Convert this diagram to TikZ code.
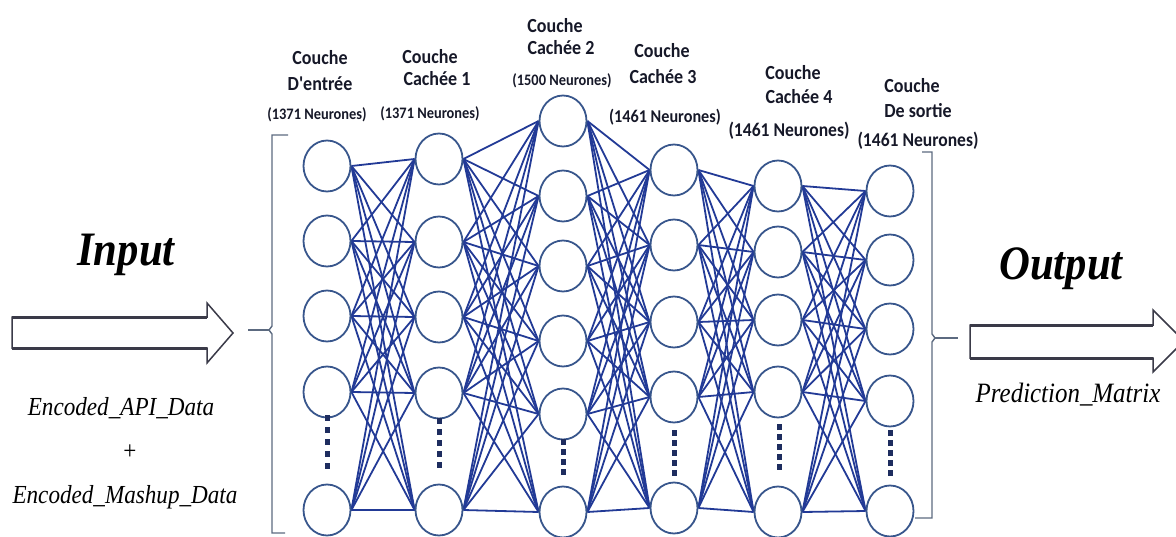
\documentclass[tikz,border=0pt]{standalone}
\usepackage{fontspec}
\newfontfamily\labfont{Carlito}[FakeStretch=0.9]
\newfontfamily\serfont{Liberation Serif}[FakeStretch=0.89]
\usetikzlibrary{shapes.geometric,backgrounds}

\definecolor{edgeblue}{RGB}{34,58,150}
\definecolor{neuronc}{RGB}{56,86,140}
\definecolor{dotc}{RGB}{30,45,95}
\definecolor{brk}{RGB}{92,106,128}
\definecolor{arrc}{RGB}{58,58,72}
\definecolor{labc}{RGB}{22,24,40}

\tikzset{
  neuron/.style={ellipse, draw=neuronc, line width=1.8pt, fill=white,
    minimum width=47pt, minimum height=51pt, inner sep=0pt},
  edge/.style={draw=edgeblue, line width=1.8pt},
  bracket/.style={draw=brk, line width=1.4pt},
  blockarrow/.style={draw=arrc, line width=1.5pt, fill=white, line join=miter},
  shaftedge/.style={draw=arrc, line width=3pt},
  title/.style={font=\labfont\bfseries\fontsize{20}{22}\selectfont, text=labc, inner sep=0pt},
  count/.style={font=\labfont\bfseries\fontsize{#1}{#1}\selectfont, text=labc, inner sep=0pt},
  big/.style={font=\serfont\bfseries\itshape\fontsize{48}{50}\selectfont, inner sep=0pt, anchor=base},
  data/.style={font=\serfont\itshape\fontsize{26}{28}\selectfont, inner sep=0pt, anchor=base},
}

\begin{document}
\begin{tikzpicture}[x=1pt,y=-1pt]
\useasboundingbox (0,0) rectangle (1176,536);
\clip (0,0) rectangle (1176,536);

% neurons of each layer
\foreach \y [count=\i] in {166,241,316,392,510} \node[neuron] (n1-\i) at (327,\y) {};
\foreach \y [count=\i] in {159,242,317,393,510} \node[neuron] (n2-\i) at (439,\y) {};
\foreach \y [count=\i] in {121,196,266,341,414,512} \node[neuron] (n3-\i) at (563,\y) {};
\foreach \y [count=\i] in {170,245,322,397,508} \node[neuron] (n4-\i) at (674,\y) {};
\foreach \y [count=\i] in {186,252,320,392,512} \node[neuron] (n5-\i) at (778,\y) {};
\foreach \y [count=\i] in {191,260,329,401,511} \node[neuron] (n6-\i) at (890,\y) {};

% full connections between consecutive layers
\begin{scope}[on background layer]
\foreach \i in {1,...,5} \foreach \j in {1,...,5} \draw[edge] (n1-\i.east) -- (n2-\j.west);
\foreach \i in {1,...,5} \foreach \j in {1,...,6} \draw[edge] (n2-\i.east) -- (n3-\j.west);
\foreach \i in {1,...,6} \foreach \j in {1,...,5} \draw[edge] (n3-\i.east) -- (n4-\j.west);
\foreach \i in {1,...,5} \foreach \j in {1,...,5} \draw[edge] (n4-\i.east) -- (n5-\j.west);
\foreach \i in {1,...,5} \foreach \j in {1,...,5} \draw[edge] (n5-\i.east) -- (n6-\j.west);
\end{scope}

% vertical ellipsis dots
\foreach \x/\ys in {327/{418,430,442,454,466}, 439/{421,432,443,454,465},
                    563/{442,452,462,472}, 674/{433,443,453,463,473},
                    779/{427,437,447,457,467}, 890/{433,443,453,463,473}}
  \foreach \y in \ys \fill[dotc] (\x-2.5,\y-2.8) rectangle (\x+2.5,\y+2.8);

% brackets around the network
\draw[bracket] (288,135) -- (272,135) -- (272,326) -- (269,330) -- (272,334) -- (272,533) -- (285,533);
\draw[bracket] (269,330) -- (248,330);
\draw[bracket] (922,152) -- (932,152) -- (932,334) -- (935,338) -- (932,342) -- (932,518) -- (915,518);
\draw[bracket] (935,338) -- (958,338);

% input block arrow
\draw[blockarrow] (12,317) -- (207,317) -- (207,303) -- (233,333) -- (207,363) -- (207,348) -- (12,348) -- cycle;
\draw[shaftedge] (12,317) -- (207,317) (12,348) -- (207,348);
% output block arrow
\draw[blockarrow] (970,325) -- (1153,325) -- (1153,310) -- (1184,341) -- (1153,372) -- (1153,358) -- (970,358) -- cycle;
\draw[shaftedge] (970,325) -- (1153,325) (970,358) -- (1153,358);

% layer titles
\node[title] (t1a) at (320,58) {Couche};
\node[title] (t1b) at (320,84) {D'entrée};
\node[count=16] (t1c) at (317,115) {(1371 Neurones)};
\node[title] (t2a) at (430,57) {Couche};
\node[title] (t2b) at (437,79) {Cachée 1};
\node[count=16] (t2c) at (430,114) {(1371 Neurones)};
\node[title] (t3a) at (555,26) {Couche};
\node[title] (t3b) at (561,48) {Cachée 2};
\node[count=16] (t3c) at (562,81) {(1500 Neurones)};
\node[title] (t4a) at (662,51) {Couche};
\node[title] (t4b) at (663,77) {Cachée 3};
\node[count=18] (t4c) at (665,117) {(1461 Neurones)};
\node[title] (t5a) at (793,73) {Couche};
\node[title] (t5b) at (799,97) {Cachée 4};
\node[count=19.5] (t5c) at (789,131) {(1461 Neurones)};
\node[title] (t6a) at (912,86) {Couche};
\node[title] (t6b) at (918,111) {De sortie};
\node[count=19.5] (t6c) at (918,141) {(1461 Neurones)};

% input / output captions
\node[big] (inp) at (126,265) {Input};
\node[big] (outp) at (1061,279) {Output};
\node[data] (api) at (121,415) {Encoded\_API\_Data};
\node[font=\serfont\fontsize{26}{28}\selectfont, inner sep=0pt] (plus) at (130,452) {+};
\node[data] (mash) at (125,503) {Encoded\_Mashup\_Data};
\node[data, font=\serfont\itshape\fontsize{28}{30}\selectfont] (pred) at (1068,402) {Prediction\_Matrix};
\end{tikzpicture}
\end{document}
